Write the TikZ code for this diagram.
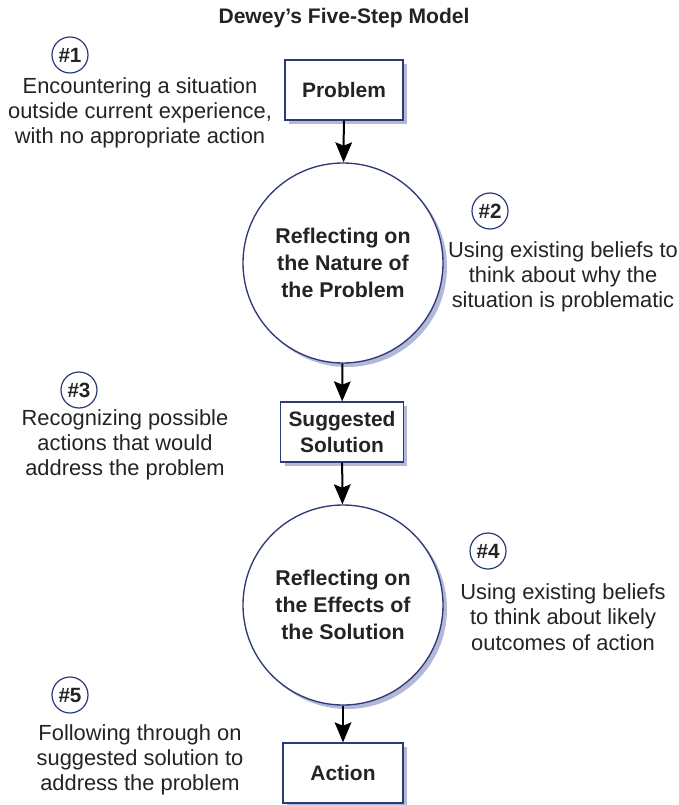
\documentclass[tikz,border=0pt]{standalone}
\usepackage{fontspec}
\setmainfont{Liberation Sans}
\usetikzlibrary{arrows.meta,shadows}
\definecolor{navy}{RGB}{44,58,118}
\definecolor{shadowc}{RGB}{178,184,214}
\definecolor{txt}{RGB}{35,35,35}
\begin{document}
\begin{tikzpicture}[x=0.75pt,y=-0.75pt,
  every node/.style={text=txt},
  stepbox/.style={draw=navy, line width=0.9pt, fill=white, minimum height=45pt,
    align=center, font=\bfseries\fontsize{15.7}{19.5}\selectfont,
    drop shadow={shadow xshift=3pt, shadow yshift=-3pt, fill=shadowc, opacity=1}},
  bigcirc/.style={circle, draw=navy, line width=1pt, fill=white, minimum size=150pt,
    align=center, font=\bfseries\fontsize{16}{20}\selectfont,
    drop shadow={shadow xshift=3pt, shadow yshift=-3pt, fill=shadowc, opacity=1}},
  numc/.style={circle, draw=navy, line width=0.9pt, inner sep=0pt, minimum size=27pt,
    font=\bfseries\fontsize{15.5}{17}\selectfont},
  desc/.style={align=center, font=\fontsize{16.4}{18.9}\selectfont},
  flow/.style={line width=1.5pt, -{Stealth[length=15pt,width=12.5pt,inset=2.5pt]}}
]
\useasboundingbox (0,0) rectangle (678,805);
\node[font=\bfseries\fontsize{15.8}{18}\selectfont] (title) at (344,18) {Dewey’s Five-Step Model};

\node[stepbox, minimum width=88.5pt] (prob) at (344,90) {Problem};
\node[bigcirc] (c1) at (343,263) {Reflecting on\\the Nature of\\the Problem};
\node[stepbox, minimum width=92pt] (sugg) at (342,432) {Suggested\\Solution};
\node[bigcirc] (c2) at (343,605) {Reflecting on\\the Effects of\\the Solution};
\node[stepbox, minimum width=90pt] (act) at (343,773) {Action};

\draw[flow] (prob) -- (c1);
\draw[flow] (c1) -- (sugg);
\draw[flow] (sugg) -- (c2);
\draw[flow] (c2) -- (act);

\node[numc] (n1) at (70,55) {\#1};
\node[desc] (d1) at (140,113) {Encountering a situation\\outside current experience,\\with no appropriate action};
\node[numc] (n2) at (490,211) {\#2};
\node[desc] (d2) at (563,277) {Using existing beliefs to\\think about why the\\situation is problematic};
\node[numc] (n3) at (79,390) {\#3};
\node[desc] (d3) at (125,445) {Recognizing possible\\actions that would\\address the problem};
\node[numc] (n4) at (488,551) {\#4};
\node[desc] (d4) at (563,617) {Using existing beliefs\\to think about likely\\outcomes of action};
\node[numc] (n5) at (70,695) {\#5};
\node[desc] (d5) at (140,760) {Following through on\\suggested solution to\\address the problem};
\end{tikzpicture}
\end{document}
